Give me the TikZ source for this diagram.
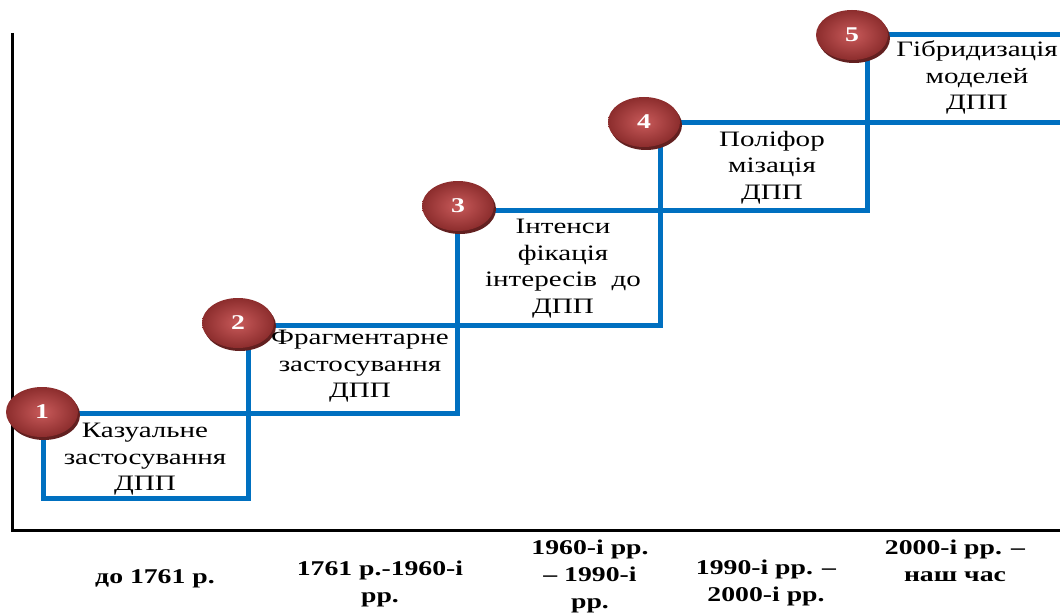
\documentclass[tikz,border=0pt]{standalone}
\usepackage{fontspec}
\setmainfont{Liberation Serif}[FakeStretch=1.32]
\usetikzlibrary{shapes.geometric,shadows,positioning}
\definecolor{stepblue}{HTML}{0070C0}
\definecolor{balllight}{HTML}{C85A5A}
\definecolor{balldark}{HTML}{8C2D2D}
\begin{document}
\begin{tikzpicture}[x=1pt,y=-1pt,
    stepline/.style={draw=stepblue,line width=5pt},
    stageball/.style={ellipse,minimum width=72pt,minimum height=50pt,inner sep=0pt,
      inner color=balllight,outer color=balldark,text=white,
      font=\bfseries\fontsize{21}{21}\selectfont,
      drop shadow={fill=balldark!70!black,shadow xshift=2pt,shadow yshift=-3pt,opacity=1}},
    steptext/.style={anchor=north,align=center,inner sep=0pt,font=\fontsize{22}{26.5}\selectfont},
    datelabel/.style={anchor=north,align=center,inner sep=0pt,font=\bfseries\fontsize{21}{27}\selectfont}]
  \useasboundingbox (0,0) rectangle (1060,615);
  \clip (0,0) rectangle (1060,615);
  \path
    (43,498) coordinate (S0)
    (248,413) coordinate (S1)
    (457,325) coordinate (S2)
    (660,210) coordinate (S3)
    (867,123) coordinate (S4)
    (1075,35) coordinate (S5)
  ;
  % Draw axes
  \draw[line width=3pt] (12,33) -- (12,530) -- (1060,530);
  % Draw steps
  \draw[stepline] (S0) rectangle (S1);
  \draw[stepline] (S1) rectangle (S2);
  \draw[stepline] (S2) rectangle (S3);
  \draw[stepline] (S3) rectangle (S4);
  \draw[stepline] (S4) rectangle (S5);
  % Stage balls
  \node[stageball] (b1) at (42,412) {1};
  \node[stageball] (b2) at (238,323) {2};
  \node[stageball] (b3) at (458,206) {3};
  \node[stageball] (b4) at (644,122) {4};
  \node[stageball] (b5) at (852,35) {5};
  % Annotations
  \node[steptext] (t1) at (145,423) {Казуальне\\застосування\\ДПП};
  \node[steptext] (t2) at (360,330) {Фрагментарне\\застосування\\ДПП};
  \node[steptext] (t3) at (563,219) {Інтенси\\фікація\\інтересів~~до\\ДПП};
  \node[steptext] (t4) at (772,131) {Поліфор\\мізація\\ДПП};
  \node[steptext] (t5) at (977,41) {Гібридизація\\моделей\\ДПП};
  \node[datelabel] (d1) at (155,569) {до 1761 р.};
  \node[datelabel] (d2) at (380,561) {1761 р.-1960-і\\рр.};
  \node[datelabel] (d3) at (590,540) {1960-і рр.\\– 1990-і\\рр.};
  \node[datelabel] (d4) at (766,560) {1990-і рр. –\\2000-і рр.};
  \node[datelabel] (d5) at (955,540) {2000-і рр. –\\наш час};
\end{tikzpicture}
\end{document}
